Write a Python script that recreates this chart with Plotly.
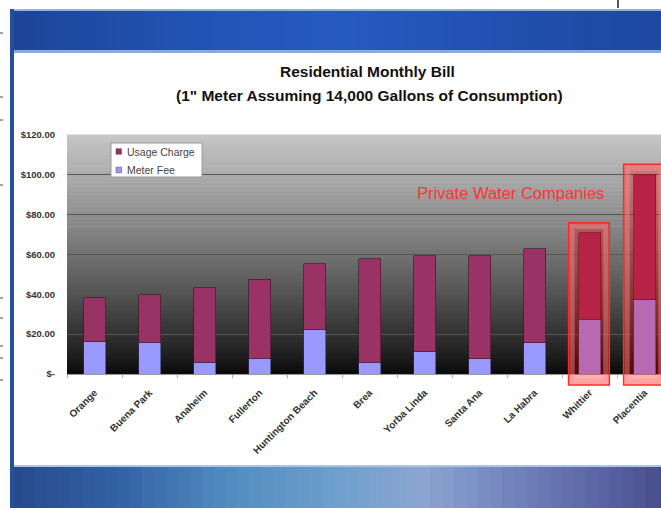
import plotly.graph_objects as go

# ---------------- data ----------------
categories = ["Orange", "Buena Park", "Anaheim", "Fullerton", "Huntington Beach",
              "Brea", "Yorba Linda", "Santa Ana", "La Habra", "Whittier", "Placentia"]
meter_fee = [16.1, 16.0, 6.0, 8.0, 22.1, 6.0, 11.2, 7.7, 15.7, 27.6, 37.2]
usage_charge = [22.1, 23.7, 37.2, 39.7, 33.2, 51.8, 48.1, 51.6, 47.3, 43.4, 63.1]
y_tick_values = [0, 20, 40, 60, 80, 100, 120]
y_tick_labels = ["$-", "$20.00", "$40.00", "$60.00", "$80.00", "$100.00", "$120.00"]
private_companies = ["Whittier", "Placentia"]
series_names = ["Usage Charge", "Meter Fee"]
series_colors = ["#993366", "#9999FF"]

Y_MAX = 120
W, H = 661, 508
L, R, T, B = 67, 0, 135, 134
PW, PH = W - L - R, H - T - B
FONT = "Liberation Sans, Arial"


def px_x(px):
    return (px - L) / PW


def px_y(py):
    return (H - B - py) / PH


def lerp_stops(stops, x):
    for (x0, c0), (x1, c1) in zip(stops, stops[1:]):
        if x0 <= x <= x1:
            t = (x - x0) / (x1 - x0)
            return tuple(round(a + (b - a) * t) for a, b in zip(c0, c1))
    return stops[-1][1]


shapes = []

# plot area vertical gradient (light grey top -> black bottom)
N = 60
for i in range(N):
    t0, t1 = i / N, (i + 1) / N
    g = round(8 + (198 - 8) * (((t0 + t1) / 2) ** 0.85))
    shapes.append(dict(type="rect", xref="paper", yref="paper", x0=0, x1=1.01,
                       y0=t0, y1=t1 + 0.002, line=dict(width=0),
                       fillcolor=f"rgb({g},{g},{g})", layer="below"))

# slide top band
top_stops = [(10, (28, 68, 150)), (200, (34, 84, 182)), (350, (37, 90, 192)),
             (500, (33, 80, 176)), (661, (30, 72, 160))]
step = 12
for xs in range(10, 661, step):
    c = lerp_stops(top_stops, xs + step / 2)
    shapes.append(dict(type="rect", xref="paper", yref="paper",
                       x0=px_x(xs), x1=px_x(min(xs + step + 1, 662)),
                       y0=px_y(52), y1=px_y(9), line=dict(width=0),
                       fillcolor=f"rgb{c}", layer="below"))
shapes.append(dict(type="rect", xref="paper", yref="paper", x0=px_x(10), x1=px_x(662),
                   y0=px_y(11), y1=px_y(9), line=dict(width=0),
                   fillcolor="rgb(150,175,220)", layer="below"))
shapes.append(dict(type="rect", xref="paper", yref="paper", x0=px_x(10), x1=px_x(662),
                   y0=px_y(53), y1=px_y(50), line=dict(width=0),
                   fillcolor="rgb(140,170,225)", layer="below"))

# slide bottom band
bot_stops = [(10, (38, 74, 140)), (120, (52, 98, 165)), (230, (82, 140, 192)),
             (330, (108, 158, 204)), (420, (140, 165, 210)), (520, (112, 128, 186)),
             (600, (90, 100, 165)), (661, (72, 78, 138))]
for xs in range(10, 661, step):
    c = lerp_stops(bot_stops, xs + step / 2)
    shapes.append(dict(type="rect", xref="paper", yref="paper",
                       x0=px_x(xs), x1=px_x(min(xs + step + 1, 662)),
                       y0=px_y(508), y1=px_y(465), line=dict(width=0),
                       fillcolor=f"rgb{c}", layer="below"))
shapes.append(dict(type="rect", xref="paper", yref="paper", x0=px_x(10), x1=px_x(662),
                   y0=px_y(467), y1=px_y(465), line=dict(width=0),
                   fillcolor="rgb(175,195,228)", layer="below"))

# slide left blue edge
shapes.append(dict(type="rect", xref="paper", yref="paper", x0=px_x(10), x1=px_x(14),
                   y0=px_y(508), y1=px_y(9), line=dict(width=0),
                   fillcolor="rgb(40,78,158)", layer="below"))

# small stray marks on the page margin
for yy in [33, 97, 120, 185, 298, 318, 346, 358, 380]:
    shapes.append(dict(type="line", xref="paper", yref="paper", x0=px_x(0), x1=px_x(3),
                       y0=px_y(yy), y1=px_y(yy), line=dict(color="#444", width=1),
                       layer="below"))
shapes.append(dict(type="line", xref="paper", yref="paper", x0=px_x(618), x1=px_x(618),
                   y0=px_y(0), y1=px_y(8), line=dict(color="#222", width=1.5), layer="below"))

# red highlight boxes around private water companies
for name in private_companies:
    i = categories.index(name)
    top = (meter_fee[i] + usage_charge[i] + 5) / Y_MAX
    bottom = px_y(385)
    shapes.append(dict(type="rect", xref="x", yref="paper",
                       x0=i - 0.38, x1=i + 0.36, y0=bottom, y1=top,
                       line=dict(color="#ff2a2a", width=1.5),
                       fillcolor="rgba(255,0,0,0.30)", layer="above"))
    shapes.append(dict(type="rect", xref="x", yref="paper",
                       x0=i - 0.38 + 0.065, x1=i + 0.36 - 0.065,
                       y0=bottom + 0.016, y1=top - 0.016,
                       line=dict(color="rgba(255,140,140,0.45)", width=5),
                       fillcolor="rgba(0,0,0,0)", layer="above"))

# legend box (drawn as shapes + text)
shapes.append(dict(type="rect", xref="paper", yref="paper",
                   x0=px_x(111), x1=px_x(202), y0=px_y(177), y1=px_y(143),
                   line=dict(color="#9a9a9a", width=1), fillcolor="white", layer="above"))
annotations = []
for k, (nm, col) in enumerate(zip(series_names, series_colors)):
    yc = 151.5 + k * 18.5
    shapes.append(dict(type="rect", xref="paper", yref="paper",
                       x0=px_x(116), x1=px_x(121.5), y0=px_y(yc + 2.8), y1=px_y(yc - 2.8),
                       line=dict(color="#444", width=0.5), fillcolor=col, layer="above"))
    annotations.append(dict(text=nm, xref="paper", yref="paper", x=px_x(125), y=px_y(yc),
                            xanchor="left", yanchor="middle", showarrow=False,
                            font=dict(family=FONT, size=10.5, color="#444")))

fig = go.Figure()
fig.add_trace(go.Bar(name=series_names[1], x=categories, y=meter_fee, width=0.4,
                     marker=dict(color=series_colors[1], line=dict(color="#333355", width=0.6))))
fig.add_trace(go.Bar(name=series_names[0], x=categories, y=usage_charge, width=0.4,
                     marker=dict(color=series_colors[0], line=dict(color="#3a1022", width=0.6))))

annotations += [
    dict(text="<b>Residential Monthly Bill</b>", xref="paper", yref="paper",
         x=px_x(367), y=px_y(72), showarrow=False, xanchor="center", yanchor="middle",
         font=dict(family=FONT, size=15.5, color="#111")),
    dict(text="<b>(1\" Meter Assuming 14,000 Gallons of Consumption)</b>", xref="paper",
         yref="paper", x=px_x(369), y=px_y(95), showarrow=False, xanchor="center",
         yanchor="middle", font=dict(family=FONT, size=15.5, color="#111")),
    dict(text="Private Water Companies", xref="x", yref="y", x=7.57, y=91,
         showarrow=False, xanchor="center", yanchor="middle",
         font=dict(family=FONT, size=16.5, color="#ff3333")),
]

fig.update_layout(
    width=W, height=H, autosize=False,
    margin=dict(l=L, r=R, t=T, b=B, pad=0),
    paper_bgcolor="white", plot_bgcolor="rgba(0,0,0,0)",
    barmode="stack",
    showlegend=False,
    xaxis=dict(range=[-0.5, -0.5 + PW / 55.0], tickangle=-45,
               tickfont=dict(family=FONT, size=10, color="#333", weight="bold"),
               showgrid=False, ticks="outside", tickson="boundaries", ticklen=3,
               tickcolor="#aaa", showline=True, linecolor="#999", linewidth=1,
               ticklabelstandoff=8),
    yaxis=dict(range=[0, Y_MAX], tickvals=y_tick_values, ticktext=y_tick_labels,
               tickfont=dict(family=FONT, size=9.5, color="#333", weight="bold"),
               showgrid=True, gridcolor="#555", gridwidth=1, zeroline=False,
               ticks="", ticklabelstandoff=11, showline=False),
    shapes=shapes,
    annotations=annotations,
    font=dict(family=FONT),
)

fig.write_html("out.html", config={"displayModeBar": False},
               post_script="document.body.style.margin='0';document.body.style.padding='0';")
